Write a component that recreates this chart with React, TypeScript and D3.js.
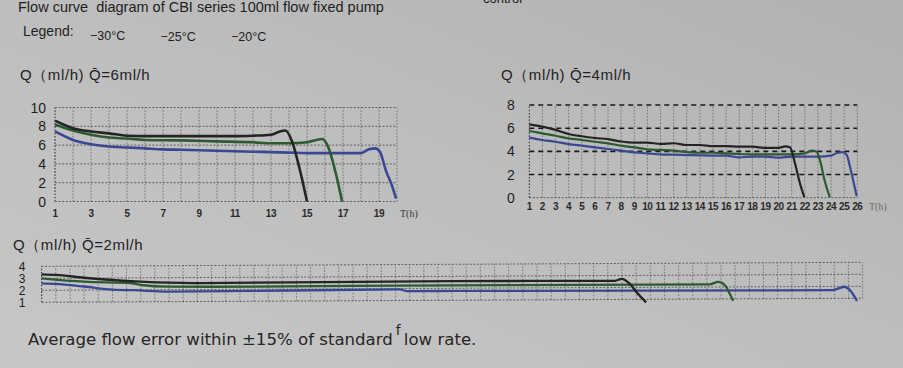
import React, { useEffect, useRef } from 'react'
import * as d3 from 'd3'

interface Point { t: number, q: number }

const title = 'Flow curve  diagram of CBI series 100ml flow fixed pump'
const legendLabels = ['\u221230\u00b0C', '\u221225\u00b0C', '\u221220\u00b0C']
const seriesColors = ['#242424', '#2d5a33', '#3a4794']

// Q = 6 ml/h
const q6Minus30: Point[] = [
    { t: 1, q: 8.6 }, { t: 2, q: 7.8 }, { t: 3, q: 7.45 }, { t: 4, q: 7.25 }, { t: 5, q: 7.0 },
    { t: 6, q: 6.95 }, { t: 8, q: 6.95 }, { t: 11, q: 6.95 }, { t: 12, q: 7.0 }, { t: 13, q: 7.1 },
    { t: 13.5, q: 7.45 }, { t: 13.8, q: 7.55 }, { t: 14.15, q: 6.5 }, { t: 14.6, q: 3.4 }, { t: 15, q: 0 },
]
const q6Minus25: Point[] = [
    { t: 1, q: 8.2 }, { t: 2, q: 7.55 }, { t: 3, q: 7.1 }, { t: 4, q: 6.8 }, { t: 5, q: 6.7 },
    { t: 6, q: 6.55 }, { t: 8, q: 6.5 }, { t: 10, q: 6.4 }, { t: 12, q: 6.3 }, { t: 13, q: 6.2 },
    { t: 14, q: 6.2 }, { t: 15, q: 6.3 }, { t: 15.5, q: 6.55 }, { t: 15.85, q: 6.65 }, { t: 16.2, q: 5.7 },
    { t: 16.6, q: 3.0 }, { t: 16.95, q: 0 },
]
const q6Minus20: Point[] = [
    { t: 1, q: 7.45 }, { t: 2, q: 6.55 }, { t: 3, q: 6.1 }, { t: 4, q: 5.85 }, { t: 5, q: 5.75 },
    { t: 6, q: 5.65 }, { t: 7, q: 5.55 }, { t: 8, q: 5.5 }, { t: 9, q: 5.45 }, { t: 10, q: 5.4 },
    { t: 11, q: 5.35 }, { t: 12, q: 5.3 }, { t: 13, q: 5.25 }, { t: 14, q: 5.2 }, { t: 15, q: 5.15 },
    { t: 18, q: 5.15 }, { t: 18.5, q: 5.6 }, { t: 18.8, q: 5.65 }, { t: 19.05, q: 5.3 }, { t: 19.4, q: 3.2 },
    { t: 19.7, q: 1.8 }, { t: 19.95, q: 0.3 },
]
const q6XTicks = [1, 3, 5, 7, 9, 11, 13, 15, 17, 19]
const q6YTicks = [0, 2, 4, 6, 8, 10]

// Q = 4 ml/h
const q4Minus30: Point[] = [
    { t: 1, q: 6.33 }, { t: 2, q: 6.13 }, { t: 3, q: 5.85 }, { t: 4, q: 5.5 }, { t: 5, q: 5.3 },
    { t: 6, q: 5.15 }, { t: 7, q: 5.05 }, { t: 8, q: 4.85 }, { t: 9, q: 4.75 }, { t: 10, q: 4.75 },
    { t: 11, q: 4.65 }, { t: 12, q: 4.7 }, { t: 13, q: 4.55 }, { t: 14, q: 4.55 }, { t: 15, q: 4.45 },
    { t: 16, q: 4.45 }, { t: 17, q: 4.4 }, { t: 18, q: 4.4 }, { t: 19, q: 4.3 }, { t: 20, q: 4.3 },
    { t: 20.5, q: 4.43 }, { t: 20.87, q: 4.35 }, { t: 21.25, q: 2.96 }, { t: 21.63, q: 1.24 }, { t: 21.96, q: 0.05 },
]
const q4Minus25: Point[] = [
    { t: 1, q: 5.76 }, { t: 2, q: 5.55 }, { t: 3, q: 5.35 }, { t: 4, q: 5.12 }, { t: 5, q: 4.98 },
    { t: 6, q: 4.83 }, { t: 7, q: 4.69 }, { t: 8, q: 4.49 }, { t: 9, q: 4.35 }, { t: 10, q: 4.17 },
    { t: 11, q: 4.12 }, { t: 12, q: 4.06 }, { t: 13, q: 3.94 }, { t: 14, q: 3.88 }, { t: 15, q: 3.88 },
    { t: 16, q: 3.83 }, { t: 17, q: 3.77 }, { t: 18, q: 3.74 }, { t: 19, q: 3.74 }, { t: 20, q: 3.74 },
    { t: 21, q: 3.74 }, { t: 22, q: 3.83 }, { t: 22.55, q: 4.06 }, { t: 22.9, q: 3.97 }, { t: 23.15, q: 3.25 },
    { t: 23.5, q: 1.53 }, { t: 23.9, q: 0.05 },
]
const q4Minus20: Point[] = [
    { t: 1, q: 5.18 }, { t: 2, q: 4.98 }, { t: 3, q: 4.83 }, { t: 4, q: 4.63 }, { t: 5, q: 4.49 },
    { t: 6, q: 4.35 }, { t: 7, q: 4.2 }, { t: 8, q: 4.06 }, { t: 9, q: 3.91 }, { t: 10, q: 3.83 },
    { t: 11, q: 3.74 }, { t: 12, q: 3.71 }, { t: 13, q: 3.68 }, { t: 14, q: 3.65 }, { t: 15, q: 3.63 },
    { t: 16, q: 3.63 }, { t: 17, q: 3.48 }, { t: 18, q: 3.54 }, { t: 19, q: 3.54 }, { t: 20, q: 3.45 },
    { t: 21, q: 3.54 }, { t: 22, q: 3.54 }, { t: 23, q: 3.54 }, { t: 24, q: 3.63 }, { t: 24.4, q: 3.83 },
    { t: 24.9, q: 3.94 }, { t: 25.2, q: 3.68 }, { t: 25.5, q: 2.39 }, { t: 25.95, q: 0.15 },
]
const q4XTicks = [1, 2, 3, 4, 5, 6, 7, 8, 9, 10, 11, 12, 13, 14, 15, 16, 17, 18, 19, 20, 21, 22, 23, 24, 25, 26]
const q4YTicks = [0, 2, 4, 6, 8]

// Q = 2 ml/h
const q2Minus30: Point[] = [
    { t: 1, q: 3.33 }, { t: 2, q: 3.28 }, { t: 4, q: 3.03 }, { t: 6, q: 2.83 }, { t: 8, q: 2.68 },
    { t: 10, q: 2.58 }, { t: 12, q: 2.54 }, { t: 30, q: 2.6 }, { t: 41.5, q: 2.56 }, { t: 42, q: 2.72 },
    { t: 42.5, q: 2.35 }, { t: 43.1, q: 1.5 }, { t: 43.7, q: 0.75 },
]
const q2Minus25: Point[] = [
    { t: 1, q: 3.0 }, { t: 4, q: 2.7 }, { t: 7.4, q: 2.55 }, { t: 8, q: 2.4 }, { t: 10, q: 2.25 },
    { t: 16, q: 2.22 }, { t: 30, q: 2.25 }, { t: 48.2, q: 2.23 }, { t: 48.8, q: 2.42 }, { t: 49.3, q: 2.1 },
    { t: 49.6, q: 1.45 }, { t: 49.85, q: 0.84 },
]
const q2Minus20: Point[] = [
    { t: 1, q: 2.58 }, { t: 2, q: 2.53 }, { t: 4, q: 2.3 }, { t: 6, q: 2.03 }, { t: 7.5, q: 1.97 },
    { t: 10, q: 1.83 }, { t: 26.3, q: 1.93 }, { t: 26.8, q: 1.79 }, { t: 30, q: 1.78 }, { t: 56.9, q: 1.7 },
    { t: 57.7, q: 1.97 }, { t: 58.1, q: 1.69 }, { t: 58.6, q: 0.78 },
]
const q2YTicks = [1, 2, 3, 4]

const sans = 'Liberation Sans, Arial, sans-serif'

export default function App() {
    const ref = useRef<HTMLDivElement>(null)
    let width = 903, height = 368

    function drawPanel(svg: any, p: any) {
        const x = d3.scaleLinear().domain(p.xDomain).range(p.xRange)
        const y = d3.scaleLinear().domain(p.yDomain).range(p.yRange)

        svg.append('text')
            .attr('x', p.titleX)
            .attr('y', p.titleY)
            .text(p.title)
            .style('font-family', sans)
            .style('font-size', '15px')
            .style('letter-spacing', '0.6px')
            .attr('fill', '#222')

        const g = svg.append('g')
        if (p.tilt) g.attr('transform', 'rotate(' + p.tilt + ', ' + p.xRange[0] + ', ' + p.yRange[0] + ')')

        const hours = d3.range(p.xDomain[0], p.xDomain[1] + 1)
        g.append('g').selectAll('line')
            .data(hours)
            .enter()
            .append('line')
            .attr('x1', (d: number) => x(d))
            .attr('x2', (d: number) => x(d))
            .attr('y1', p.yRange[0])
            .attr('y2', p.yRange[1])
            .attr('stroke', (d: number) => d === p.xDomain[0] ? '#3a3a3a' : '#666')
            .attr('stroke-width', (d: number) => d === p.xDomain[0] ? 1.1 : 0.8)
            .attr('stroke-dasharray', '1.6,1.6')

        g.append('g').selectAll('line')
            .data(p.yTicks)
            .enter()
            .append('line')
            .attr('x1', p.xRange[0])
            .attr('x2', p.xRange[1])
            .attr('y1', (d: number) => y(d))
            .attr('y2', (d: number) => y(d))
            .attr('stroke', (d: number) => p.boldGrid && d !== p.yDomain[0] ? '#1a1a1a' : '#555')
            .attr('stroke-width', (d: number) => p.boldGrid && d !== p.yDomain[0] ? 1.6 : 0.9)
            .attr('stroke-dasharray', (d: number) => p.boldGrid && d !== p.yDomain[0] ? '5,4' : '2,1.6')

        const line = d3.line<Point>()
            .x(d => x(d.t))
            .y(d => y(d.q))
            .curve(d3.curveMonotoneX)

        const order = [2, 1, 0]
        order.forEach(i => {
            g.append('path')
                .attr('d', line(p.series[i]))
                .attr('fill', 'none')
                .attr('stroke', seriesColors[i])
                .attr('stroke-width', p.lineWidth)
                .attr('stroke-linejoin', 'round')
        })

        svg.append('g').selectAll('text')
            .data(p.yTicks)
            .enter()
            .append('text')
            .attr('x', p.yLabelX)
            .attr('y', (d: number) => y(d))
            .attr('dy', '0.36em')
            .attr('text-anchor', p.yLabelAnchor)
            .text((d: number) => d)
            .style('font-family', sans)
            .style('font-size', p.yLabelSize + 'px')
            .attr('fill', '#1e1e1e')

        if (p.xTicks) {
            svg.append('g').selectAll('text')
                .data(p.xTicks)
                .enter()
                .append('text')
                .attr('x', (d: number) => x(d))
                .attr('y', p.xLabelY)
                .attr('text-anchor', 'middle')
                .text((d: number) => d)
                .style('font-family', sans)
                .style('font-size', p.xLabelSize + 'px')
                .style('font-weight', 'bold')
                .style('letter-spacing', '-0.4px')
                .attr('fill', '#2a2a2a')
            svg.append('text')
                .attr('x', p.tX)
                .attr('y', p.xLabelY)
                .text('T(h)')
                .style('font-family', 'Liberation Serif, DejaVu Serif, serif')
                .style('font-size', '10px')
                .attr('fill', p.tColor)
        }
    }

    function graph() {
        d3.select(ref.current).selectAll('*').remove()
        const svg = d3.select(ref.current)
            .append('svg')
            .attr('width', width)
            .attr('height', height)
            .style('display', 'block')

        const defs = svg.append('defs')
        const grad = defs.append('linearGradient')
            .attr('id', 'paper')
            .attr('x1', '0').attr('y1', '1').attr('x2', '1').attr('y2', '0')
        grad.append('stop').attr('offset', '0%').attr('stop-color', '#c7c7c7')
        grad.append('stop').attr('offset', '55%').attr('stop-color', '#bdbdbd')
        grad.append('stop').attr('offset', '100%').attr('stop-color', '#b1b1b1')
        svg.append('rect').attr('width', width).attr('height', height).attr('fill', 'url(#paper)')

        svg.append('text')
            .attr('x', 18).attr('y', 12)
            .attr('xml:space', 'preserve')
            .style('white-space', 'pre')
            .text(title)
            .style('font-family', sans).style('font-size', '14.5px').attr('fill', '#1e1e1e')
        svg.append('text')
            .attr('x', 483).attr('y', 3)
            .text('control')
            .style('font-family', sans).style('font-size', '13px').attr('fill', '#1e1e1e')

        svg.append('text')
            .attr('x', 23).attr('y', 36)
            .text('Legend:')
            .style('font-family', sans).style('font-size', '14px').attr('fill', '#1e1e1e')
        svg.append('g').selectAll('text')
            .data(legendLabels)
            .enter()
            .append('text')
            .attr('x', (d: string, i: number) => 90 + i * 70.5)
            .attr('y', (d: string, i: number) => 40 + i * 0.5)
            .text((d: string) => d)
            .style('font-family', sans).style('font-size', '12.5px').attr('fill', '#1e1e1e')

        drawPanel(svg, {
            title: 'Q\uff08ml/h) Q\u0304=6ml/h', titleX: 20, titleY: 80,
            xDomain: [1, 20], xRange: [55, 397], yDomain: [0, 10], yRange: [201.5, 107.5],
            yTicks: q6YTicks, xTicks: q6XTicks, series: [q6Minus30, q6Minus25, q6Minus20],
            lineWidth: 2.6, boldGrid: false, yLabelX: 46, yLabelAnchor: 'end', yLabelSize: 14,
            xLabelY: 217, xLabelSize: 10, tX: 400, tColor: '#333',
        })

        drawPanel(svg, {
            title: 'Q\uff08ml/h) Q\u0304=4ml/h', titleX: 501, titleY: 80,
            xDomain: [1, 26], xRange: [529.3, 857.3], yDomain: [0, 8], yRange: [197.7, 105],
            yTicks: q4YTicks, xTicks: q4XTicks, series: [q4Minus30, q4Minus25, q4Minus20],
            lineWidth: 2.2, boldGrid: true, yLabelX: 511, yLabelAnchor: 'middle', yLabelSize: 14,
            xLabelY: 210, xLabelSize: 10, tX: 869, tColor: '#6a6a6a',
        })

        drawPanel(svg, {
            title: 'Q\uff08ml/h) Q\u0304=2ml/h', titleX: 13, titleY: 250,
            xDomain: [1, 59], xRange: [41.7, 862.7], yDomain: [1, 4], yRange: [302.3, 266.3],
            yTicks: q2YTicks, xTicks: null, series: [q2Minus30, q2Minus25, q2Minus20],
            lineWidth: 2.3, boldGrid: false, yLabelX: 22, yLabelAnchor: 'middle', yLabelSize: 12,
            tilt: -0.28,
        })

        const note = svg.append('text')
            .attr('x', 28).attr('y', 345)
            .style('font-family', 'DejaVu Sans, Verdana, sans-serif')
            .style('font-size', '16.6px')
            .attr('fill', '#262626')
        note.append('tspan').text('Average flow error within \u00b115% of standard')
        note.append('tspan').attr('dx', 3).attr('dy', -10).style('font-size', '14px').text('f')
        note.append('tspan').attr('dx', 3).attr('dy', 10).text('low rate.')
    }

    useEffect(() => {
        graph()
    }, [])

    return (
        <div ref={ref} style={{ position: 'absolute', left: 0, top: 0 }}></div>
    )
}
